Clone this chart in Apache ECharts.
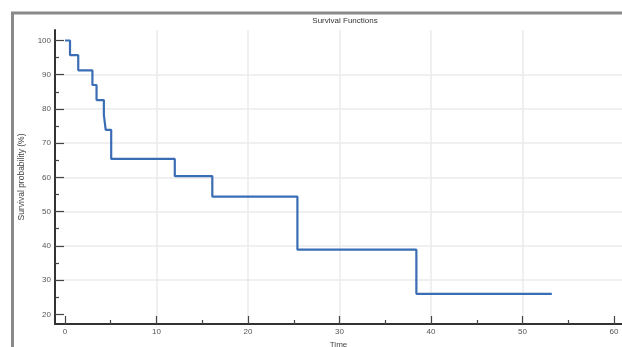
<!DOCTYPE html>
<html><head><meta charset="utf-8">
<script src="https://cdn.jsdelivr.net/npm/echarts@6/dist/echarts.min.js"></script>
<style>html,body{margin:0;padding:0;background:#fff}#c{width:622px;height:347px}</style>
</head><body><div id="c"></div>
<script>
var titleText = 'Survival Functions';
var xName = 'Time';
var yName = 'Survival probability (%)';
var times = [0, 0.55, 1.45, 3.0, 3.45, 4.25, 4.45, 5.05, 12.0, 16.1, 25.4, 38.4, 53.2];
var survival = [100, 95.7, 91.3, 87.0, 82.6, 78.3, 73.9, 65.4, 60.4, 54.4, 38.9, 26.0, 26.0];
var xMajor = [0, 10, 20, 30, 40, 50, 60];
var xMinor = [5, 15, 25, 35, 45, 55];
var yMajor = [20, 30, 40, 50, 60, 70, 80, 90, 100];
var yMinor = [25, 35, 45, 55, 65, 75, 85, 95];

var X_MIN = -1.09, X_MAX = 60.87, Y_MIN = 17.17, Y_MAX = 103.07;
var FONT = 'Liberation Sans';
var chart = echarts.init(document.getElementById('c'), null, {renderer: 'canvas'});
var lbl = {color: '#555', fontSize: 8, fontFamily: FONT};
chart.setOption({
  animation: false,
  backgroundColor: '#fff',
  title: {text: titleText, left: 340, top: 12, textAlign: 'center',
    textStyle: {fontSize: 8, fontWeight: 'normal', color: '#333', fontFamily: FONT}},
  graphic: [{type: 'rect', shape: {x: 12.5, y: 13, width: 800, height: 500},
    style: {fill: null, stroke: '#8a8a8a', lineWidth: 3}, z: 0}],
  grid: {left: 55, top: 30, right: 0, bottom: 23, containLabel: false, outerBoundsMode: 'none'},
  xAxis: [{
    type: 'value', min: X_MIN, max: X_MAX, splitNumber: 6,
    name: xName, nameLocation: 'middle', nameGap: 16,
    nameTextStyle: {color: '#444', fontSize: 8, fontFamily: FONT},
    axisLine: {show: true, onZero: false, lineStyle: {color: '#333', width: 2}},
    axisTick: {show: true, inside: true, length: 8, customValues: xMajor, lineStyle: {color: '#444', width: 1.2}},
    axisLabel: Object.assign({customValues: xMajor, margin: 4}, lbl),
    splitLine: {show: true, showMinLine: false, showMaxLine: false, lineStyle: {color: '#ebebeb', width: 1.5}}
  }, {
    type: 'value', min: X_MIN, max: X_MAX, position: 'bottom', offset: 0,
    axisLine: {show: false, onZero: false},
    axisTick: {show: true, inside: true, length: 4, customValues: xMinor, lineStyle: {color: '#444', width: 1.2}},
    axisLabel: {show: false}, splitLine: {show: false}
  }],
  yAxis: [{
    type: 'value', min: Y_MIN, max: Y_MAX, splitNumber: 8,
    name: yName, nameLocation: 'middle', nameGap: 29, nameRotate: 90,
    nameTextStyle: {color: '#444', fontSize: 8.5, fontFamily: FONT},
    axisLine: {show: true, onZero: false, lineStyle: {color: '#333', width: 2}},
    axisTick: {show: true, inside: true, length: 9, customValues: yMajor, lineStyle: {color: '#444', width: 1.2}},
    axisLabel: Object.assign({customValues: yMajor, margin: 4}, lbl),
    splitLine: {show: true, showMinLine: false, showMaxLine: false, lineStyle: {color: '#ebebeb', width: 1.5}}
  }, {
    type: 'value', min: Y_MIN, max: Y_MAX, position: 'left', offset: 0,
    axisLine: {show: false, onZero: false},
    axisTick: {show: true, inside: true, length: 4, customValues: yMinor, lineStyle: {color: '#444', width: 1.2}},
    axisLabel: {show: false}, splitLine: {show: false}
  }],
  series: [{
    type: 'line', step: 'end', xAxisIndex: 0, yAxisIndex: 0,
    data: times.map(function (t, i) { return [t, survival[i]]; }),
    showSymbol: false, symbol: 'none',
    lineStyle: {color: '#3b6db5', width: 2.2}
  }]
});
</script></body></html>
